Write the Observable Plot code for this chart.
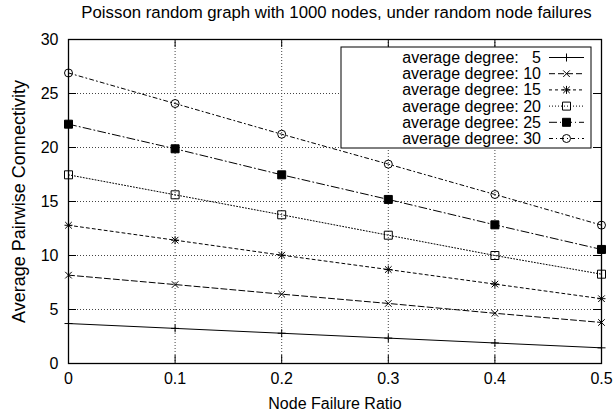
<!DOCTYPE html>
<html><head><meta charset="utf-8">
<script src="https://cdn.jsdelivr.net/npm/d3@7"></script>
<script src="https://cdn.jsdelivr.net/npm/@observablehq/plot@0.6"></script>
<style>
body{margin:0;background:#fff;font-family:"Liberation Sans",Arial,sans-serif;}
#title{height:24px;width:613px;font-size:16.8px;line-height:25px;color:#000;white-space:nowrap;padding-left:60px;box-sizing:border-box;text-align:center;}
#chart svg{display:block;}
</style></head><body>
<div id="title"></div>
<div id="chart"></div>
<script>
// ---- data ----
const failureRatios = [0, 0.1, 0.2, 0.3, 0.4, 0.5];
const degrees = [5, 10, 15, 20, 25, 30];
const deg5  = [3.70, 3.25, 2.80, 2.35, 1.90, 1.45];
const deg10 = [8.18, 7.31, 6.42, 5.56, 4.65, 3.80];
const deg15 = [12.80, 11.42, 10.03, 8.70, 7.35, 6.00];
const deg20 = [17.47, 15.62, 13.77, 11.88, 10.00, 8.27];
const deg25 = [22.16, 19.88, 17.47, 15.19, 12.84, 10.56];
const deg30 = [26.90, 24.07, 21.23, 18.46, 15.65, 12.81];
const xTicks = [0, 0.1, 0.2, 0.3, 0.4, 0.5];
const yTicks = [0, 5, 10, 15, 20, 25, 30];
const titleText = "Poisson random graph with 1000 nodes, under random node failures";
const xLabel = "Node Failure Ratio";
const yLabel = "Average Pairwise Connectivity";
const legendPrefix = "average degree: ";

const seriesValues = [deg5, deg10, deg15, deg20, deg25, deg30];
document.getElementById("title").textContent = titleText;

// ---- styles ----
function sym(fn){ return {draw(ctx){ fn(ctx); }}; }
const plusS = sym(c=>{const r=4;c.moveTo(-r,0);c.lineTo(r,0);c.moveTo(0,-r);c.lineTo(0,r);});
const timesS = sym(c=>{const r=3.3;c.moveTo(-r,-r);c.lineTo(r,r);c.moveTo(-r,r);c.lineTo(r,-r);});
const starS = sym(c=>{const r=4,q=3.3;c.moveTo(-r,0);c.lineTo(r,0);c.moveTo(0,-r);c.lineTo(0,r);c.moveTo(-q,-q);c.lineTo(q,q);c.moveTo(-q,q);c.lineTo(q,-q);});
const squareS = sym(c=>{const r=4;c.rect(-r,-r,2*r,2*r);});
const circleS = sym(c=>{const r=4;c.moveTo(r,0);c.arc(0,0,r,0,2*Math.PI);});
const styles = [
  {dash: null, symbol: plusS, fill: "none"},
  {dash: "6,3", symbol: timesS, fill: "none"},
  {dash: "3,3", symbol: starS, fill: "none"},
  {dash: "1,2", symbol: squareS, fill: "none"},
  {dash: "8,3,1,3", symbol: squareS, fill: "#000"},
  {dash: "4,3,1,3", symbol: circleS, fill: "none"}
];

const rows = [];
degrees.forEach((d, i) => failureRatios.forEach((x, j) => rows.push({degree: d, ratio: x, value: seriesValues[i][j]})));

const W = 613, H = 391;
const mL = 68, mR = 12, mT = 15, mB = 52;
const fw = W - mL - mR, fh = H - mT - mB;

const marks = [
  Plot.gridX([0.1, 0.2, 0.3, 0.4], {stroke: "#444", strokeOpacity: 1, strokeWidth: 1, strokeDasharray: "1,2"}),
  Plot.gridY([5, 10, 15, 20, 25], {stroke: "#444", strokeOpacity: 1, strokeWidth: 1, strokeDasharray: "1,2"}),
  Plot.tickY(yTicks, {y: d => d, insetRight: fw - 8, stroke: "#000"}),
  Plot.tickY(yTicks, {y: d => d, insetLeft: fw - 8, stroke: "#000"}),
  Plot.tickX(xTicks, {x: d => d, insetTop: fh - 8, stroke: "#000"}),
  Plot.tickX(xTicks, {x: d => d, insetBottom: fh - 8, stroke: "#000"})
];
degrees.forEach((d, i) => {
  const data = rows.filter(r => r.degree === d);
  const s = styles[i];
  marks.push(Plot.line(data, {x: "ratio", y: "value", stroke: "#000", strokeWidth: 1, strokeDasharray: s.dash || undefined}));
  marks.push(Plot.dot(data, {x: "ratio", y: "value", symbol: s.symbol, r: 4, stroke: "#000", strokeWidth: 1, fill: s.fill}));
});
marks.push(
  Plot.frame({stroke: "#000", strokeWidth: 1.3}),
  Plot.axisX({ticks: xTicks, tickSize: 0, tickPadding: 9, tickFormat: d => String(d), label: null, fontSize: 16}),
  Plot.axisY({ticks: yTicks, tickSize: 0, tickPadding: 10, label: null, fontSize: 16}),
  Plot.text([xLabel], {text: d => d, frameAnchor: "bottom", dy: 40, fontSize: 16, lineAnchor: "middle", textAnchor: "middle"}),
  Plot.text([yLabel], {text: d => d, frameAnchor: "left", dx: -49, rotate: -90, fontSize: 18, lineAnchor: "middle", textAnchor: "middle"})
);

const chart = Plot.plot({
  width: W, height: H,
  marginLeft: mL, marginRight: mR, marginTop: mT, marginBottom: mB,
  x: {domain: [0, 0.5]},
  y: {domain: [0, 30]},
  style: {fontFamily: "'Liberation Sans', Arial, sans-serif", fontSize: "16px", color: "#000", background: "#fff", overflow: "visible"},
  marks
});
document.getElementById("chart").appendChild(chart);

// ---- legend (opaque box, top right) ----
const svg = d3.select(chart);
const lg = svg.append("g");
const bx = 341, by = 23, bw = 250, bh = 101;
lg.append("rect").attr("x", bx).attr("y", by).attr("width", bw).attr("height", bh)
  .attr("fill", "#fff").attr("stroke", "#000").attr("stroke-width", 1);
degrees.forEach((d, i) => {
  const cy = by + 10.5 + i * 16.2;
  const s = styles[i];
  lg.append("text").attr("x", 541).attr("y", cy).attr("text-anchor", "end")
    .attr("dominant-baseline", "central").attr("font-size", 16).style("white-space", "pre")
    .text(legendPrefix + (d < 10 ? "  " : "") + d);
  lg.append("line").attr("x1", 549).attr("x2", 584).attr("y1", cy).attr("y2", cy)
    .attr("stroke", "#000").attr("stroke-width", 1).attr("stroke-dasharray", s.dash || null);
  const p = d3.path(); s.symbol.draw(p);
  lg.append("path").attr("d", p.toString()).attr("transform", `translate(566.5,${cy})`)
    .attr("stroke", "#000").attr("fill", s.fill);
});
</script>
</body></html>
